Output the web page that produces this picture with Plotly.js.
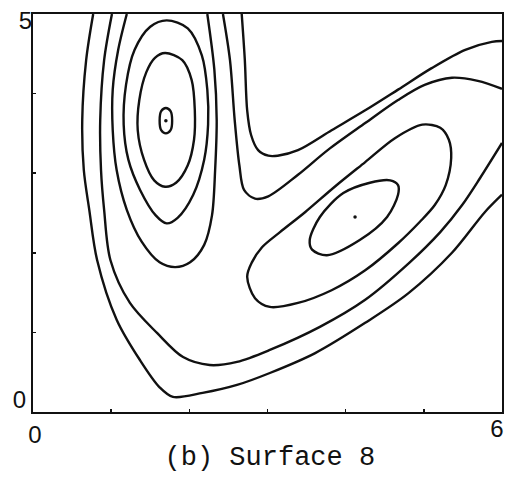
<!DOCTYPE html>
<html>
<head>
<meta charset="utf-8">
<script src="https://cdn.plot.ly/plotly-3.0.1.min.js"></script>
<style>
html,body{margin:0;padding:0;background:#fff;}
#chart{width:505px;height:480px;}
</style>
</head>
<body>
<div id="chart"></div>
<script>
// Contour lines (data units: x 0..6, y 0..5)
const tinyX = [1.70, 1.76, 1.78, 1.76, 1.70, 1.64, 1.62, 1.64, 1.70];
const tinyY = [3.82, 3.78, 3.66, 3.54, 3.50, 3.54, 3.66, 3.78, 3.82];

const e2X = [1.69, 1.91, 2.03, 2.07, 2.06, 1.98, 1.83, 1.69, 1.55, 1.42, 1.34, 1.36, 1.45, 1.56, 1.69];
const e2Y = [4.51, 4.42, 4.17, 3.79, 3.42, 3.10, 2.88, 2.83, 2.91, 3.17, 3.54, 3.92, 4.27, 4.45, 4.51];

const e3X = [1.71, 1.98, 2.16, 2.23, 2.24, 2.19, 2.05, 1.85, 1.71, 1.57, 1.37, 1.22, 1.16, 1.19, 1.30, 1.50, 1.71];
const e3Y = [4.92, 4.82, 4.48, 4.05, 3.61, 3.17, 2.73, 2.44, 2.37, 2.47, 2.79, 3.17, 3.61, 4.11, 4.55, 4.84, 4.92];

const e4X = [1.20, 1.09, 1.02, 1.02, 1.07, 1.20, 1.39, 1.62, 1.82, 2.01, 2.19, 2.29, 2.33, 2.35, 2.32, 2.23];
const e4Y = [5.00, 4.55, 4.05, 3.54, 3.04, 2.54, 2.14, 1.88, 1.82, 1.88, 2.10, 2.47, 3.04, 3.67, 4.30, 5.00];

const l2X = [1.01, 0.91, 0.86, 0.87, 0.91, 0.99, 1.24, 1.59, 1.92, 2.26, 2.61, 3.03, 3.67, 4.25, 4.82, 5.21, 5.49, 5.72, 6.00];
const l2Y = [5.00, 4.42, 3.67, 3.04, 2.54, 1.91, 1.37, 0.99, 0.69, 0.59, 0.63, 0.78, 1.07, 1.41, 1.88, 2.26, 2.60, 2.94, 3.38];

const l1X = [0.77, 0.68, 0.63, 0.65, 0.72, 0.82, 1.07, 1.37, 1.62, 1.79, 2.17, 2.61, 3.03, 3.61, 4.25, 4.80, 5.36, 5.78, 6.00];
const l1Y = [5.00, 4.42, 3.67, 3.04, 2.54, 1.91, 1.16, 0.65, 0.31, 0.19, 0.24, 0.34, 0.49, 0.74, 1.12, 1.49, 2.00, 2.51, 2.73];

const s2X = [2.43, 2.52, 2.58, 2.64, 2.70, 2.84, 3.01, 3.39, 3.77, 4.25, 4.67, 5.01, 5.36, 5.69, 6.00];
const s2Y = [5.00, 4.42, 3.67, 3.10, 2.79, 2.68, 2.71, 2.98, 3.29, 3.63, 3.92, 4.11, 4.20, 4.16, 4.06];

const s1X = [2.67, 2.71, 2.74, 2.79, 2.88, 3.01, 3.13, 3.39, 3.82, 4.25, 4.67, 5.10, 5.53, 5.87, 6.00];
const s1Y = [5.00, 4.42, 3.79, 3.48, 3.29, 3.22, 3.22, 3.29, 3.54, 3.79, 4.05, 4.32, 4.55, 4.65, 4.66];

const e5X = [3.57, 3.54, 3.67, 3.97, 4.31, 4.57, 4.67, 4.67, 4.53, 4.18, 3.76, 3.57];
const e5Y = [2.04, 2.16, 2.45, 2.75, 2.88, 2.91, 2.85, 2.73, 2.45, 2.16, 1.97, 2.04];

const e6X = [2.74, 2.80, 2.93, 3.16, 3.48, 3.86, 4.25, 4.63, 4.98, 5.21, 5.32, 5.35, 5.28, 5.14, 4.95, 4.67, 4.25, 3.82, 3.39, 3.03, 2.84, 2.74];
const e6Y = [1.70, 1.88, 2.07, 2.26, 2.51, 2.83, 3.14, 3.44, 3.61, 3.57, 3.42, 3.19, 2.85, 2.60, 2.39, 2.12, 1.78, 1.53, 1.37, 1.32, 1.43, 1.70];

const peakX = [1.70, 4.12];
const peakY = [3.66, 2.45];

const xTickVals = [0, 1, 2, 3, 4, 5, 6];
const xTickTextLeft = ['0', '', '', '', '', '', ''];
const xTickTextRight = ['', '', '', '', '', '', '6'];
const yTickVals = [0, 1, 2, 3, 4, 5];
const yTickTextLow = ['0', '', '', '', '', ''];
const yTickTextHigh = ['', '', '', '', '', '5'];
const chartTitle = '(b) Surface 8';

const lineStyle = {color: '#111', width: 2.4, shape: 'spline', smoothing: 0.9};
const curves = [
  [tinyX, tinyY], [e2X, e2Y], [e3X, e3Y], [e4X, e4Y],
  [l2X, l2Y], [l1X, l1Y], [s2X, s2Y], [s1X, s1Y],
  [e5X, e5Y], [e6X, e6Y]
];
const traces = curves.map(c => ({
  x: c[0], y: c[1], type: 'scatter', mode: 'lines',
  line: lineStyle, hoverinfo: 'skip', showlegend: false
}));
traces.push({
  x: peakX, y: peakY, type: 'scatter', mode: 'markers',
  marker: {color: '#111', size: 3.5}, showlegend: false, hoverinfo: 'skip'
});
// empty trace so the overlaid label axes are drawn
traces.push({x: [], y: [], xaxis: 'x2', yaxis: 'y2', type: 'scatter', mode: 'lines', showlegend: false});

const tickFont = {family: 'Liberation Sans, Arial, sans-serif', size: 24, color: '#111'};

const baseAxis = {
  fixedrange: true, showgrid: false, zeroline: false,
  tickfont: tickFont, ticklabeloverflow: 'allow'
};

const layout = {
  width: 505, height: 480,
  margin: {l: 33, r: 3, t: 14, b: 68},
  paper_bgcolor: '#fff', plot_bgcolor: '#fff',
  showlegend: false,
  title: {
    text: chartTitle,
    font: {family: 'Courier New, Nimbus Mono PS, FreeMono, Liberation Mono, monospace', size: 27, color: '#111'},
    x: 0.505, xref: 'paper', xanchor: 'center',
    y: 0.05, yref: 'container', yanchor: 'middle'
  },
  xaxis: Object.assign({}, baseAxis, {
    range: [0, 6],
    showline: true, mirror: true, linecolor: '#111', linewidth: 2,
    ticks: 'inside', ticklen: 3, tickwidth: 1.5, tickcolor: '#111',
    tickvals: xTickVals, ticktext: xTickTextLeft,
    ticklabelstandoff: 0, ticklabelshift: 2
  }),
  xaxis2: Object.assign({}, baseAxis, {
    range: [0, 6], overlaying: 'x', side: 'bottom', anchor: 'y',
    showline: false, ticks: '',
    tickvals: xTickVals, ticktext: xTickTextRight,
    ticklabelstandoff: 0, ticklabelshift: -5
  }),
  yaxis: Object.assign({}, baseAxis, {
    range: [0, 5],
    showline: true, mirror: true, linecolor: '#111', linewidth: 2,
    ticks: 'inside', ticklen: 3, tickwidth: 1.5, tickcolor: '#111',
    tickvals: yTickVals, ticktext: yTickTextLow,
    ticklabelstandoff: 0, ticklabelshift: -12
  }),
  yaxis2: Object.assign({}, baseAxis, {
    range: [0, 5], overlaying: 'y', side: 'left', anchor: 'x',
    showline: false, ticks: '',
    tickvals: yTickVals, ticktext: yTickTextHigh,
    ticklabelstandoff: 0, ticklabelshift: 7
  })
};

Plotly.newPlot('chart', traces, layout, {staticPlot: true, displayModeBar: false});
</script>
</body>
</html>
